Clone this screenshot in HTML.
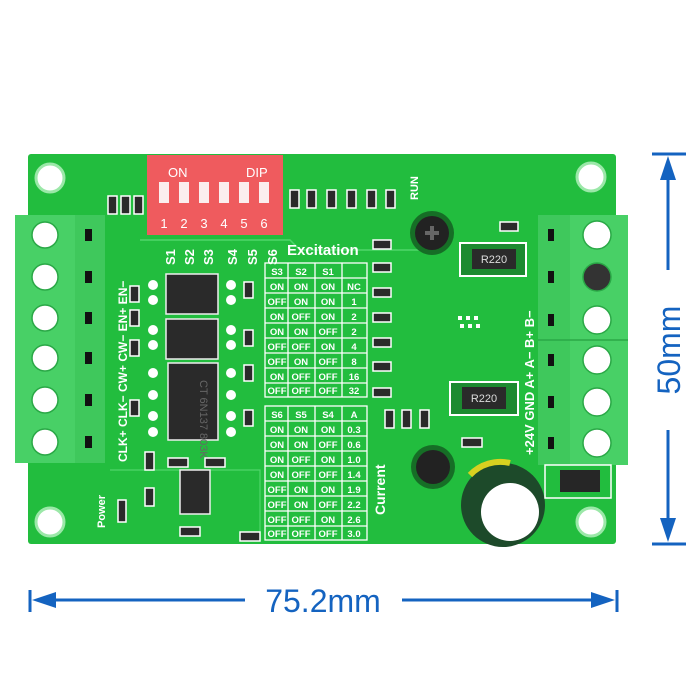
<!DOCTYPE html>
<html><head><meta charset="utf-8"><style>
html,body{margin:0;padding:0;background:#fff;width:700px;height:700px;overflow:hidden}
svg{display:block}
text{font-family:"Liberation Sans",sans-serif}
</style></head><body>
<svg width="700" height="700" viewBox="0 0 700 700" xmlns="http://www.w3.org/2000/svg">
<rect width="700" height="700" fill="#fff"/>
<!-- board -->
<rect x="28" y="154" width="588" height="390" rx="3" fill="#22bd3e"/>
<path d="M140 240 L290 240 L300 250 L420 250" stroke="#4fd66a" stroke-width="1.5" fill="none"/>
<path d="M110 470 L260 470 L260 540" stroke="#4fd66a" stroke-width="1.2" fill="none"/>
<!-- mounting holes -->
<g fill="#fff" stroke="#9be8a8" stroke-width="3">
<circle cx="50" cy="178" r="14"/><circle cx="591" cy="177" r="14"/>
<circle cx="50" cy="522" r="14"/><circle cx="591" cy="522" r="14"/>
</g>
<!-- DIP switch -->
<rect x="147" y="155" width="136" height="80" fill="#ef5b5e"/>
<text x="168" y="177" font-size="13" fill="#fff">ON</text>
<text x="246" y="177" font-size="13" fill="#fff">DIP</text>
<g fill="#fbeeee">
<rect x="159" y="182" width="10" height="21"/><rect x="179" y="182" width="10" height="21"/>
<rect x="199" y="182" width="10" height="21"/><rect x="219" y="182" width="10" height="21"/>
<rect x="239" y="182" width="10" height="21"/><rect x="259" y="182" width="10" height="21"/>
</g>
<g font-size="13" fill="#fff" text-anchor="middle">
<text x="164" y="228">1</text><text x="184" y="228">2</text><text x="204" y="228">3</text>
<text x="224" y="228">4</text><text x="244" y="228">5</text><text x="264" y="228">6</text>
</g>
<!-- small resistors top -->
<g fill="#2a2a2a" stroke="#fff" stroke-width="1.5">
<rect x="108" y="196" width="9" height="18"/><rect x="121" y="196" width="9" height="18"/><rect x="134" y="196" width="9" height="18"/>
<rect x="290" y="190" width="9" height="18"/><rect x="307" y="190" width="9" height="18"/><rect x="327" y="190" width="9" height="18"/>
<rect x="347" y="190" width="9" height="18"/><rect x="367" y="190" width="9" height="18"/><rect x="386" y="190" width="9" height="18"/>
</g>
<text x="0" y="0" font-size="11" font-weight="bold" fill="#fff" transform="translate(418,200) rotate(-90)">RUN</text>
<!-- left terminal -->
<rect x="15" y="215" width="90" height="248" fill="#3fc85c"/>
<rect x="15" y="215" width="60" height="248" fill="#48d066"/>
<g fill="#fff" stroke="#2aa846" stroke-width="1.5">
<circle cx="45" cy="235" r="13"/><circle cx="45" cy="277" r="13"/><circle cx="45" cy="318" r="13"/>
<circle cx="45" cy="358" r="13"/><circle cx="45" cy="400" r="13"/><circle cx="45" cy="442" r="13"/>
</g>
<g fill="#111">
<rect x="85" y="229" width="7" height="12"/><rect x="85" y="271" width="7" height="12"/><rect x="85" y="312" width="7" height="12"/>
<rect x="85" y="352" width="7" height="12"/><rect x="85" y="394" width="7" height="12"/><rect x="85" y="436" width="7" height="12"/>
</g>
<text font-size="12" font-weight="bold" fill="#fff" transform="translate(127,462) rotate(-90)">CLK+ CLK−  CW+  CW−  EN+  EN−</text>
<!-- right terminal -->
<rect x="538" y="215" width="90" height="250" fill="#3fc85c"/>
<rect x="570" y="215" width="58" height="250" fill="#48d066"/>
<line x1="538" y1="340" x2="628" y2="340" stroke="#2aa846" stroke-width="1.5"/>
<g fill="#fff" stroke="#2aa846" stroke-width="1.5">
<circle cx="597" cy="235" r="14"/><circle cx="597" cy="277" r="14" fill="#333"/><circle cx="597" cy="320" r="14"/>
<circle cx="597" cy="360" r="14"/><circle cx="597" cy="402" r="14"/><circle cx="597" cy="443" r="14"/>
</g>
<g fill="#111">
<rect x="548" y="229" width="6" height="12"/><rect x="548" y="271" width="6" height="12"/><rect x="548" y="314" width="6" height="12"/>
<rect x="548" y="354" width="6" height="12"/><rect x="548" y="396" width="6" height="12"/><rect x="548" y="437" width="6" height="12"/>
</g>
<text font-size="13" font-weight="bold" fill="#fff" transform="translate(534,455) rotate(-90)">+24V GND A+ A− B+ B−</text>
<!-- chips -->
<g fill="#2a2a2a" stroke="#eee" stroke-width="1.5">
<rect x="166" y="274" width="52" height="40"/><rect x="166" y="319" width="52" height="40"/>
<rect x="168" y="363" width="50" height="77"/><rect x="180" y="470" width="30" height="44"/>
</g>
<text font-size="11" fill="#666" transform="translate(200,380) rotate(90)">CT 6N137 803K</text>
<g fill="#fff">
<circle cx="153" cy="285" r="5"/><circle cx="153" cy="300" r="5"/><circle cx="153" cy="330" r="5"/><circle cx="153" cy="345" r="5"/>
<circle cx="153" cy="373" r="5"/><circle cx="153" cy="395" r="5"/><circle cx="153" cy="416" r="5"/><circle cx="153" cy="432" r="5"/>
<circle cx="231" cy="285" r="5"/><circle cx="231" cy="300" r="5"/><circle cx="231" cy="330" r="5"/><circle cx="231" cy="345" r="5"/>
<circle cx="231" cy="373" r="5"/><circle cx="231" cy="395" r="5"/><circle cx="231" cy="416" r="5"/><circle cx="231" cy="432" r="5"/>
</g>
<g fill="#2a2a2a" stroke="#fff" stroke-width="1.5">
<rect x="130" y="286" width="9" height="16"/><rect x="130" y="310" width="9" height="16"/><rect x="130" y="340" width="9" height="16"/>
<rect x="130" y="400" width="9" height="16"/><rect x="244" y="282" width="9" height="16"/><rect x="244" y="330" width="9" height="16"/>
<rect x="244" y="365" width="9" height="16"/><rect x="244" y="410" width="9" height="16"/>
<rect x="145" y="452" width="9" height="18"/><rect x="145" y="488" width="9" height="18"/><rect x="118" y="500" width="8" height="22"/>
<rect x="168" y="458" width="20" height="9"/><rect x="205" y="458" width="20" height="9"/><rect x="180" y="527" width="20" height="9"/>
<rect x="240" y="532" width="20" height="9"/>
</g>
<text font-size="11" font-weight="bold" fill="#fff" transform="translate(105,528) rotate(-90)">Power</text>
<!-- S labels -->
<g font-size="13" font-weight="bold" fill="#fff">
<text transform="translate(175,265) rotate(-90)">S1</text><text transform="translate(194,265) rotate(-90)">S2</text>
<text transform="translate(213,265) rotate(-90)">S3</text><text transform="translate(237,265) rotate(-90)">S4</text>
<text transform="translate(257,265) rotate(-90)">S5</text><text transform="translate(277,265) rotate(-90)">S6</text>
</g>
<text x="287" y="255" font-size="15" font-weight="bold" fill="#fff">Excitation</text>
<!-- tables -->
<g stroke="#fff" stroke-width="1.3" fill="none">
<rect x="265" y="263" width="102" height="134"/>
<line x1="288" y1="263" x2="288" y2="397"/><line x1="315" y1="263" x2="315" y2="397"/><line x1="342" y1="263" x2="342" y2="397"/>
<line x1="265" y1="278" x2="367" y2="278"/><line x1="265" y1="293" x2="367" y2="293"/><line x1="265" y1="308" x2="367" y2="308"/>
<line x1="265" y1="323" x2="367" y2="323"/><line x1="265" y1="338" x2="367" y2="338"/><line x1="265" y1="353" x2="367" y2="353"/>
<line x1="265" y1="368" x2="367" y2="368"/><line x1="265" y1="383" x2="367" y2="383"/>
<rect x="265" y="406" width="102" height="134"/>
<line x1="288" y1="406" x2="288" y2="540"/><line x1="315" y1="406" x2="315" y2="540"/><line x1="342" y1="406" x2="342" y2="540"/>
<line x1="265" y1="421" x2="367" y2="421"/><line x1="265" y1="436" x2="367" y2="436"/><line x1="265" y1="451" x2="367" y2="451"/>
<line x1="265" y1="466" x2="367" y2="466"/><line x1="265" y1="481" x2="367" y2="481"/><line x1="265" y1="496" x2="367" y2="496"/>
<line x1="265" y1="511" x2="367" y2="511"/><line x1="265" y1="526" x2="367" y2="526"/>
</g>
<g font-size="9.5" font-weight="bold" fill="#fff" text-anchor="middle">
<text x="277" y="275">S3</text><text x="301" y="275">S2</text><text x="328" y="275">S1</text>
<text x="277" y="290">ON</text><text x="301" y="290">ON</text><text x="328" y="290">ON</text><text x="354" y="290">NC</text>
<text x="277" y="305">OFF</text><text x="301" y="305">ON</text><text x="328" y="305">ON</text><text x="354" y="305">1</text>
<text x="277" y="320">ON</text><text x="301" y="320">OFF</text><text x="328" y="320">ON</text><text x="354" y="320">2</text>
<text x="277" y="335">ON</text><text x="301" y="335">ON</text><text x="328" y="335">OFF</text><text x="354" y="335">2</text>
<text x="277" y="350">OFF</text><text x="301" y="350">OFF</text><text x="328" y="350">ON</text><text x="354" y="350">4</text>
<text x="277" y="365">OFF</text><text x="301" y="365">ON</text><text x="328" y="365">OFF</text><text x="354" y="365">8</text>
<text x="277" y="380">ON</text><text x="301" y="380">OFF</text><text x="328" y="380">OFF</text><text x="354" y="380">16</text>
<text x="277" y="394">OFF</text><text x="301" y="394">OFF</text><text x="328" y="394">OFF</text><text x="354" y="394">32</text>
<text x="277" y="418">S6</text><text x="301" y="418">S5</text><text x="328" y="418">S4</text><text x="354" y="418">A</text>
<text x="277" y="433">ON</text><text x="301" y="433">ON</text><text x="328" y="433">ON</text><text x="354" y="433">0.3</text>
<text x="277" y="448">ON</text><text x="301" y="448">ON</text><text x="328" y="448">OFF</text><text x="354" y="448">0.6</text>
<text x="277" y="463">ON</text><text x="301" y="463">OFF</text><text x="328" y="463">ON</text><text x="354" y="463">1.0</text>
<text x="277" y="478">ON</text><text x="301" y="478">OFF</text><text x="328" y="478">OFF</text><text x="354" y="478">1.4</text>
<text x="277" y="493">OFF</text><text x="301" y="493">ON</text><text x="328" y="493">ON</text><text x="354" y="493">1.9</text>
<text x="277" y="508">OFF</text><text x="301" y="508">ON</text><text x="328" y="508">OFF</text><text x="354" y="508">2.2</text>
<text x="277" y="523">OFF</text><text x="301" y="523">OFF</text><text x="328" y="523">ON</text><text x="354" y="523">2.6</text>
<text x="277" y="537">OFF</text><text x="301" y="537">OFF</text><text x="328" y="537">OFF</text><text x="354" y="537">3.0</text>
</g>
<text font-size="14" font-weight="bold" fill="#fff" transform="translate(385,515) rotate(-90)">Current</text>
<!-- right side components -->
<g fill="#2a2a2a" stroke="#fff" stroke-width="1.5">
<rect x="373" y="240" width="18" height="9"/><rect x="373" y="263" width="18" height="9"/><rect x="373" y="288" width="18" height="9"/>
<rect x="373" y="313" width="18" height="9"/><rect x="373" y="338" width="18" height="9"/><rect x="373" y="362" width="18" height="9"/>
<rect x="373" y="388" width="18" height="9"/><rect x="385" y="410" width="9" height="18"/><rect x="402" y="410" width="9" height="18"/>
<rect x="420" y="410" width="9" height="18"/><rect x="462" y="438" width="20" height="9"/><rect x="500" y="222" width="18" height="9"/>
</g>
<rect x="460" y="243" width="66" height="33" fill="#1c8a30" stroke="#fff" stroke-width="2"/>
<rect x="472" y="249" width="44" height="20" fill="#2a2a2a"/>
<text x="494" y="263" font-size="11" fill="#ddd" text-anchor="middle">R220</text>
<rect x="450" y="382" width="68" height="33" fill="#1c8a30" stroke="#fff" stroke-width="2"/>
<rect x="462" y="387" width="44" height="22" fill="#2a2a2a"/>
<text x="484" y="402" font-size="11" fill="#ddd" text-anchor="middle">R220</text>
<!-- screws -->
<circle cx="432" cy="233" r="22" fill="#166e26"/><circle cx="432" cy="233" r="17" fill="#222"/>
<path d="M425 233h14M432 226v14" stroke="#666" stroke-width="4"/>
<circle cx="433" cy="467" r="22" fill="#166e26"/><circle cx="433" cy="467" r="17" fill="#222"/>
<!-- capacitor -->
<circle cx="503" cy="505" r="42" fill="#1d4a2a"/>
<path d="M470 475 a42 42 0 0 1 40 -12" stroke="#d8d020" stroke-width="6" fill="none"/>
<circle cx="510" cy="512" r="29" fill="#fff"/>
<!-- diode -->
<rect x="545" y="465" width="66" height="33" fill="none" stroke="#fff" stroke-width="1.5"/>
<rect x="560" y="470" width="40" height="22" fill="#262626"/>
<g fill="#fff"><rect x="458" y="316" width="4" height="4"/><rect x="466" y="316" width="4" height="4"/><rect x="474" y="316" width="4" height="4"/>
<rect x="460" y="324" width="4" height="4"/><rect x="468" y="324" width="4" height="4"/><rect x="476" y="324" width="4" height="4"/></g>
<!-- dimension vertical -->
<g fill="#1463c0" stroke="#1463c0">
<line x1="652" y1="154" x2="686" y2="154" stroke-width="3"/>
<line x1="652" y1="544" x2="686" y2="544" stroke-width="3"/>
<line x1="668" y1="170" x2="668" y2="270" stroke-width="3"/>
<line x1="668" y1="430" x2="668" y2="530" stroke-width="3"/>
<polygon points="668,156 660,180 676,180" stroke="none"/>
<polygon points="668,542 660,518 676,518" stroke="none"/>
<line x1="30" y1="590" x2="30" y2="612" stroke-width="3"/>
<line x1="617" y1="590" x2="617" y2="612" stroke-width="3"/>
<line x1="45" y1="600" x2="245" y2="600" stroke-width="3"/>
<line x1="402" y1="600" x2="602" y2="600" stroke-width="3"/>
<polygon points="32,600 56,592 56,608" stroke="none"/>
<polygon points="615,600 591,592 591,608" stroke="none"/>
</g>
<text x="323" y="612" font-size="32" fill="#1463c0" text-anchor="middle">75.2mm</text>
<text font-size="32" fill="#1463c0" text-anchor="middle" transform="translate(680,350) rotate(-90)">50mm</text>
</svg>
</body></html>
